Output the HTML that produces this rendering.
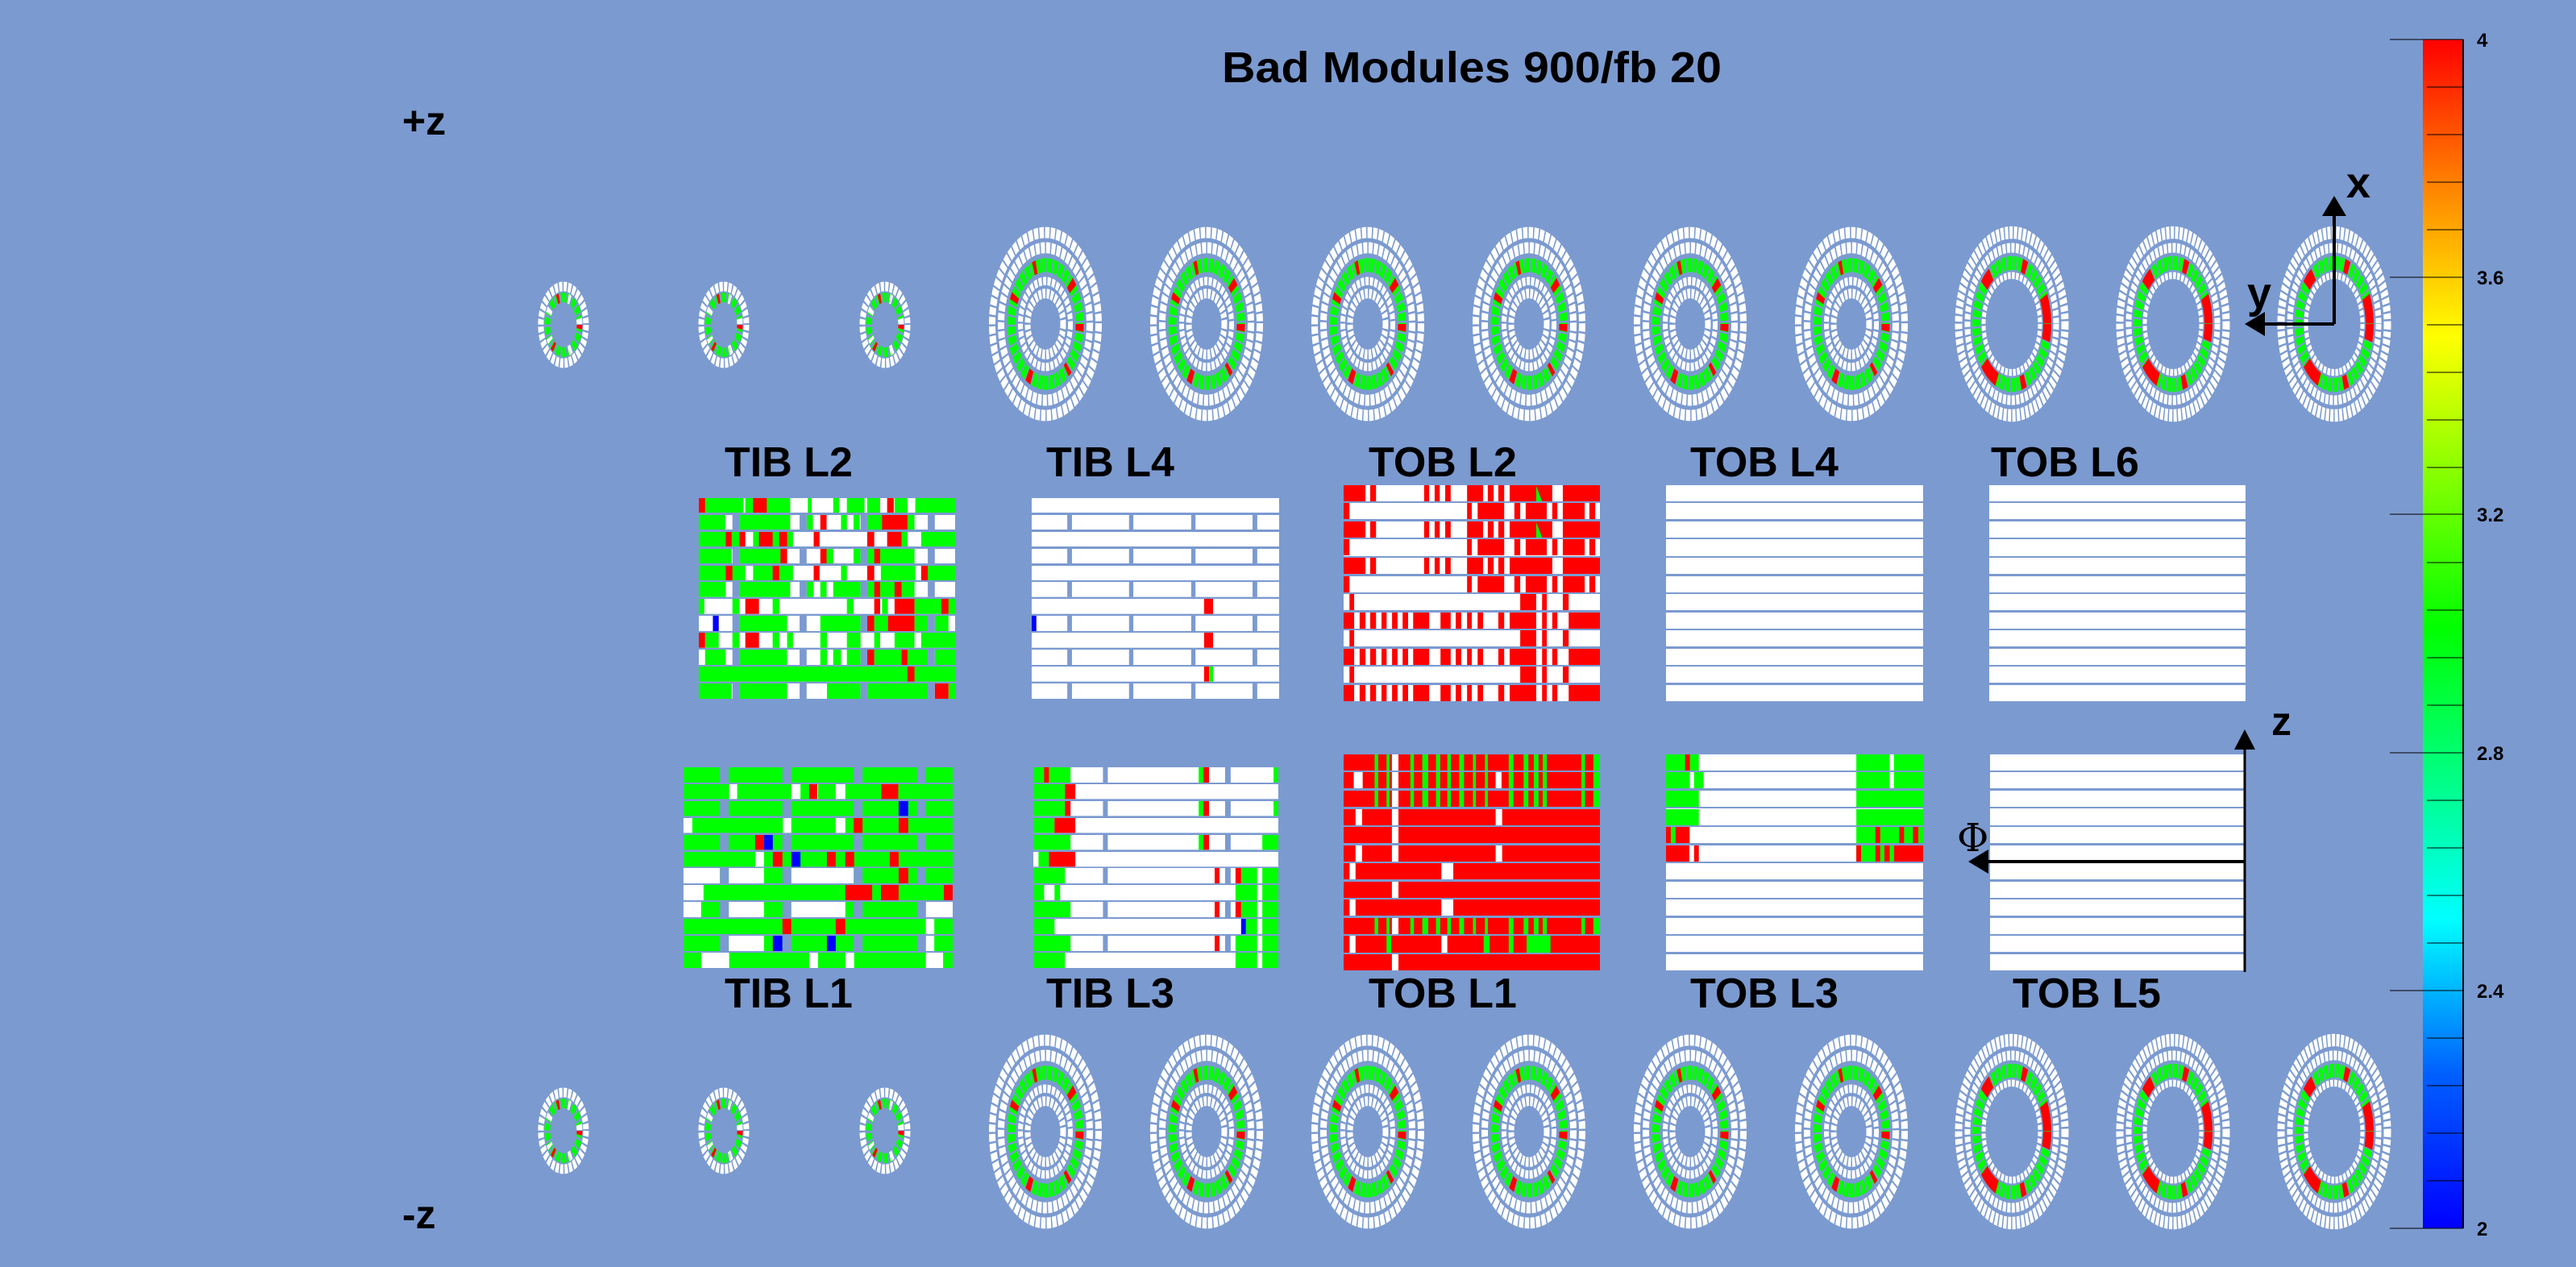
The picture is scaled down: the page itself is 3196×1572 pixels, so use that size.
<!DOCTYPE html>
<html><head><meta charset="utf-8"><style>
html,body{margin:0;padding:0;background:rgb(123,154,208);}
svg{display:block}
text{font-family:"Liberation Sans",sans-serif;font-weight:bold;fill:#000}
</style></head><body>
<svg width="3196" height="1572" viewBox="0 0 3196 1572" xmlns="http://www.w3.org/2000/svg">
<defs>
<linearGradient id="cb" x1="0" y1="1" x2="0" y2="0">
<stop offset="0" stop-color="#0000ff"/><stop offset="0.13" stop-color="#0060ff"/><stop offset="0.26" stop-color="#00ffff"/><stop offset="0.505" stop-color="#00ff00"/><stop offset="0.75" stop-color="#ffff00"/><stop offset="0.88" stop-color="#ff8000"/><stop offset="1" stop-color="#ff0000"/>
</linearGradient>
<g id="big">
<circle r="66" fill="none" stroke="#fff" stroke-width="8" stroke-dasharray="5.4 1.5"/>
<circle r="55" fill="none" stroke="#fff" stroke-width="8" stroke-dasharray="5 1.5"/>
<circle r="42.5" fill="none" stroke="#0f0" stroke-width="10" stroke-dasharray="5.5 1.5"/>
<circle r="42.5" fill="none" stroke="#f00" stroke-width="10" stroke-dasharray="5 30 4 45 6 60"/>
<circle r="31" fill="none" stroke="#fff" stroke-width="6" stroke-dasharray="4 1.5"/>
<circle r="22" fill="none" stroke="#fff" stroke-width="7" stroke-dasharray="3.5 1.5"/>
</g>
<g id="last">
<circle r="66" fill="none" stroke="#fff" stroke-width="9" stroke-dasharray="4 1.5"/>
<circle r="55" fill="none" stroke="#fff" stroke-width="7" stroke-dasharray="4 1.5"/>
<circle r="44" fill="none" stroke="#0f0" stroke-width="10" stroke-dasharray="5 1.5"/>
<circle r="44" fill="none" stroke="#f00" stroke-width="10" stroke-dasharray="12 40 6 30 20 60"/>
<circle r="35" fill="none" stroke="#fff" stroke-width="5" stroke-dasharray="3.5 1.5"/>
</g>
<g id="small">
<circle r="28" fill="none" stroke="#fff" stroke-width="7" stroke-dasharray="4 1.5"/>
<circle r="20" fill="none" stroke="#0f0" stroke-width="7" stroke-dasharray="5 2"/>
<circle r="20" fill="none" stroke="#fff" stroke-width="7" stroke-dasharray="3 18 4 25"/>
<circle r="20" fill="none" stroke="#f00" stroke-width="7" stroke-dasharray="3 40"/>
</g>
</defs>

<text x="1826" y="102" font-size="54" text-anchor="middle" textLength="620" lengthAdjust="spacingAndGlyphs">Bad Modules 900/fb 20</text>
<text x="499" y="167" font-size="50">+z</text>
<text x="499" y="1524" font-size="50">-z</text>

<!-- top disks -->
<g transform="translate(699,403) scale(1,1.7)"><use href="#small"/></g>
<g transform="translate(898,403) scale(1,1.7)"><use href="#small"/></g>
<g transform="translate(1098,403) scale(1,1.7)"><use href="#small"/></g>
<g transform="translate(1297,402) scale(1,1.72)"><use href="#big"/></g>
<g transform="translate(1497,402) scale(1,1.72)"><use href="#big"/></g>
<g transform="translate(1697,402) scale(1,1.72)"><use href="#big"/></g>
<g transform="translate(1897,402) scale(1,1.72)"><use href="#big"/></g>
<g transform="translate(2097,402) scale(1,1.72)"><use href="#big"/></g>
<g transform="translate(2297,402) scale(1,1.72)"><use href="#big"/></g>
<g transform="translate(2496,402) scale(1,1.72)"><use href="#last"/></g>
<g transform="translate(2696,402) scale(1,1.72)"><use href="#last"/></g>
<g transform="translate(2896,402) scale(1,1.72)"><use href="#last"/></g>
<!-- bottom disks -->
<g transform="translate(699,1403) scale(1,1.7)"><use href="#small"/></g>
<g transform="translate(898,1403) scale(1,1.7)"><use href="#small"/></g>
<g transform="translate(1098,1403) scale(1,1.7)"><use href="#small"/></g>
<g transform="translate(1297,1404) scale(1,1.72)"><use href="#big"/></g>
<g transform="translate(1497,1404) scale(1,1.72)"><use href="#big"/></g>
<g transform="translate(1697,1404) scale(1,1.72)"><use href="#big"/></g>
<g transform="translate(1897,1404) scale(1,1.72)"><use href="#big"/></g>
<g transform="translate(2097,1404) scale(1,1.72)"><use href="#big"/></g>
<g transform="translate(2297,1404) scale(1,1.72)"><use href="#big"/></g>
<g transform="translate(2496,1404) scale(1,1.72)"><use href="#last"/></g>
<g transform="translate(2696,1404) scale(1,1.72)"><use href="#last"/></g>
<g transform="translate(2896,1404) scale(1,1.72)"><use href="#last"/></g>

<!-- x/y axes -->
<line x1="2896" y1="402" x2="2896" y2="262" stroke="#000" stroke-width="4"/>
<polygon points="2896,243 2881,268 2911,268" fill="#000"/>
<line x1="2896" y1="402" x2="2805" y2="402" stroke="#000" stroke-width="4"/>
<polygon points="2785,402 2810,387 2810,417" fill="#000"/>
<text x="2911" y="245" font-size="54">x</text>
<text x="2788" y="382" font-size="54">y</text>

<!-- labels -->
<g font-size="52">
<text x="899" y="591">TIB L2</text><text x="1298" y="591">TIB L4</text><text x="1698" y="591">TOB L2</text><text x="2097" y="591">TOB L4</text><text x="2470" y="591">TOB L6</text>
<text x="899" y="1250">TIB L1</text><text x="1298" y="1250">TIB L3</text><text x="1698" y="1250">TOB L1</text><text x="2097" y="1250">TOB L3</text><text x="2497" y="1250">TOB L5</text>
</g>

<!-- TIB L2 -->
<svg x="867" y="618" width="318" height="249" viewBox="56 54 656 747" preserveAspectRatio="none">
<g fill="#fff"><rect x="56" y="54" width="656" height="54"/><rect x="56" y="117" width="656" height="54"/><rect x="56" y="180" width="656" height="54"/><rect x="56" y="243" width="656" height="54"/><rect x="56" y="306" width="656" height="54"/><rect x="56" y="366" width="656" height="56"/><rect x="56" y="429" width="656" height="56"/><rect x="56" y="492" width="656" height="57"/><rect x="56" y="555" width="656" height="56"/><rect x="56" y="618" width="656" height="57"/><rect x="56" y="681" width="656" height="56"/><rect x="56" y="744" width="656" height="57"/></g>
<g fill="#0f0">
<rect x="56" y="54" width="114" height="54"/><rect x="175" y="54" width="115" height="54"/><rect x="335" y="54" width="10" height="54"/><rect x="400" y="54" width="15" height="54"/><rect x="435" y="54" width="45" height="54"/><rect x="487" y="54" width="33" height="54"/><rect x="557" y="54" width="33" height="54"/><rect x="610" y="54" width="102" height="54"/>
<rect x="56" y="117" width="68" height="54"/><rect x="160" y="117" width="130" height="54"/><rect x="332" y="117" width="16" height="54"/><rect x="420" y="117" width="15" height="54"/><rect x="452" y="117" width="16" height="54"/><rect x="487" y="117" width="121" height="54"/>
<rect x="56" y="180" width="104" height="54"/><rect x="195" y="180" width="102" height="54"/><rect x="575" y="180" width="15" height="54"/><rect x="625" y="180" width="87" height="54"/>
<rect x="56" y="243" width="84" height="54"/><rect x="160" y="243" width="122" height="54"/><rect x="383" y="243" width="17" height="54"/><rect x="452" y="243" width="18" height="54"/><rect x="487" y="243" width="121" height="54"/>
<rect x="56" y="306" width="119" height="54"/><rect x="195" y="306" width="102" height="54"/><rect x="420" y="306" width="15" height="54"/><rect x="522" y="306" width="88" height="54"/><rect x="642" y="306" width="70" height="54"/>
<rect x="56" y="366" width="69" height="56"/><rect x="160" y="366" width="130" height="56"/><rect x="332" y="366" width="18" height="56"/><rect x="367" y="366" width="16" height="56"/><rect x="400" y="366" width="70" height="56"/><rect x="487" y="366" width="121" height="56"/>
<rect x="56" y="429" width="14" height="56"/><rect x="142" y="429" width="18" height="56"/><rect x="245" y="429" width="17" height="56"/><rect x="435" y="429" width="17" height="56"/><rect x="525" y="429" width="15" height="56"/><rect x="608" y="429" width="104" height="56"/>
<rect x="160" y="492" width="122" height="57"/><rect x="367" y="492" width="103" height="57"/><rect x="505" y="492" width="35" height="57"/><rect x="608" y="492" width="34" height="57"/><rect x="660" y="492" width="35" height="57"/>
<rect x="72" y="555" width="35" height="56"/><rect x="142" y="555" width="18" height="56"/><rect x="245" y="555" width="17" height="56"/><rect x="282" y="555" width="15" height="56"/><rect x="367" y="555" width="17" height="56"/><rect x="435" y="555" width="35" height="56"/><rect x="505" y="555" width="15" height="56"/><rect x="557" y="555" width="51" height="56"/><rect x="625" y="555" width="87" height="56"/>
<rect x="72" y="618" width="53" height="57"/><rect x="160" y="618" width="122" height="57"/><rect x="367" y="618" width="17" height="57"/><rect x="400" y="618" width="20" height="57"/><rect x="435" y="618" width="35" height="57"/><rect x="505" y="618" width="137" height="57"/><rect x="660" y="618" width="52" height="57"/>
<rect x="56" y="681" width="656" height="56"/>
<rect x="56" y="744" width="84" height="57"/><rect x="160" y="744" width="122" height="57"/><rect x="384" y="744" width="86" height="57"/><rect x="487" y="744" width="155" height="57"/><rect x="695" y="744" width="17" height="57"/>
</g>
<g fill="#f00">
<rect x="56" y="54" width="16" height="54"/><rect x="195" y="54" width="35" height="54"/><rect x="538" y="54" width="17" height="54"/>
<rect x="367" y="117" width="16" height="54"/><rect x="525" y="117" width="65" height="54"/>
<rect x="125" y="180" width="15" height="54"/><rect x="160" y="180" width="15" height="54"/><rect x="210" y="180" width="35" height="54"/><rect x="262" y="180" width="20" height="54"/><rect x="350" y="180" width="15" height="54"/><rect x="487" y="180" width="18" height="54"/><rect x="538" y="180" width="37" height="54"/>
<rect x="265" y="243" width="17" height="54"/><rect x="367" y="243" width="16" height="54"/><rect x="505" y="243" width="15" height="54"/>
<rect x="125" y="306" width="17" height="54"/><rect x="245" y="306" width="17" height="54"/><rect x="350" y="306" width="15" height="54"/><rect x="487" y="306" width="18" height="54"/><rect x="625" y="306" width="17" height="54"/>
<rect x="505" y="366" width="15" height="56"/><rect x="557" y="366" width="18" height="56"/>
<rect x="175" y="429" width="35" height="56"/><rect x="505" y="429" width="15" height="56"/><rect x="557" y="429" width="51" height="56"/><rect x="677" y="429" width="18" height="56"/>
<rect x="487" y="492" width="18" height="57"/><rect x="540" y="492" width="68" height="57"/>
<rect x="56" y="555" width="16" height="56"/><rect x="175" y="555" width="35" height="56"/>
<rect x="487" y="618" width="18" height="57"/><rect x="575" y="618" width="15" height="57"/>
<rect x="590" y="681" width="18" height="56"/>
<rect x="660" y="744" width="35" height="57"/>
</g>
<rect x="92" y="492" width="15" height="57" fill="#00f"/>
<g fill="rgb(123,154,208)"><rect x="142" y="117" width="18" height="54"/><rect x="314" y="117" width="18" height="54"/><rect x="470" y="117" width="17" height="54"/><rect x="642" y="117" width="18" height="54"/>
<rect x="142" y="243" width="18" height="54"/><rect x="314" y="243" width="18" height="54"/><rect x="470" y="243" width="17" height="54"/><rect x="642" y="243" width="18" height="54"/>
<rect x="142" y="366" width="18" height="56"/><rect x="314" y="366" width="18" height="56"/><rect x="470" y="366" width="17" height="56"/><rect x="642" y="366" width="18" height="56"/>
<rect x="142" y="492" width="18" height="57"/><rect x="314" y="492" width="18" height="57"/><rect x="470" y="492" width="17" height="57"/><rect x="642" y="492" width="18" height="57"/>
<rect x="142" y="618" width="18" height="57"/><rect x="314" y="618" width="18" height="57"/><rect x="470" y="618" width="17" height="57"/><rect x="642" y="618" width="18" height="57"/>
<rect x="142" y="744" width="18" height="57"/><rect x="314" y="744" width="18" height="57"/><rect x="470" y="744" width="17" height="57"/><rect x="642" y="744" width="18" height="57"/></g>
</svg>

<!-- TIB L4 -->
<svg x="1280" y="618" width="307" height="249" viewBox="908 54 633 747" preserveAspectRatio="none">
<g fill="#fff"><rect x="908" y="54" width="633" height="54"/><rect x="908" y="117" width="633" height="54"/><rect x="908" y="180" width="633" height="54"/><rect x="908" y="243" width="633" height="54"/><rect x="908" y="306" width="633" height="54"/><rect x="908" y="366" width="633" height="56"/><rect x="908" y="429" width="633" height="56"/><rect x="908" y="492" width="633" height="57"/><rect x="908" y="555" width="633" height="56"/><rect x="908" y="618" width="633" height="57"/><rect x="908" y="681" width="633" height="56"/><rect x="908" y="744" width="633" height="57"/></g>
<g fill="rgb(123,154,208)">
<rect x="999" y="117" width="12" height="54"/><rect x="1157" y="117" width="11" height="54"/><rect x="1316" y="117" width="11" height="54"/><rect x="1473" y="117" width="12" height="54"/>
<rect x="999" y="243" width="12" height="54"/><rect x="1157" y="243" width="11" height="54"/><rect x="1316" y="243" width="11" height="54"/><rect x="1473" y="243" width="12" height="54"/>
<rect x="999" y="366" width="12" height="56"/><rect x="1157" y="366" width="11" height="56"/><rect x="1316" y="366" width="11" height="56"/><rect x="1473" y="366" width="12" height="56"/>
<rect x="999" y="492" width="12" height="57"/><rect x="1157" y="492" width="11" height="57"/><rect x="1316" y="492" width="11" height="57"/><rect x="1473" y="492" width="12" height="57"/>
<rect x="999" y="618" width="12" height="57"/><rect x="1157" y="618" width="11" height="57"/><rect x="1316" y="618" width="11" height="57"/><rect x="1473" y="618" width="12" height="57"/>
<rect x="999" y="744" width="12" height="57"/><rect x="1157" y="744" width="11" height="57"/><rect x="1316" y="744" width="11" height="57"/><rect x="1473" y="744" width="12" height="57"/></g>
<g fill="#f00"><rect x="1349" y="429" width="23" height="56"/><rect x="1349" y="555" width="23" height="56"/><rect x="1349" y="681" width="13" height="56"/></g>
<rect x="1362" y="681" width="10" height="56" fill="#0f0"/>
<rect x="908" y="492" width="12" height="57" fill="#00f"/>
</svg>

<!-- TOB L2 -->
<svg x="1667" y="602" width="318" height="268" viewBox="35 6 656 804" preserveAspectRatio="none">
<g fill="#fff"><rect x="35" y="6" width="656" height="60"/><rect x="35" y="72" width="656" height="60"/><rect x="35" y="141" width="656" height="60"/><rect x="35" y="207" width="656" height="63"/><rect x="35" y="276" width="656" height="60"/><rect x="35" y="345" width="656" height="60"/><rect x="35" y="411" width="656" height="60"/><rect x="35" y="480" width="656" height="60"/><rect x="35" y="546" width="656" height="60"/><rect x="35" y="615" width="656" height="60"/><rect x="35" y="681" width="656" height="60"/><rect x="35" y="750" width="656" height="60"/></g>
<g id="pA" fill="#f00"><rect x="35" y="6" width="56" height="60"/><rect x="103" y="6" width="15" height="60"/><rect x="241" y="6" width="13" height="60"/><rect x="268" y="6" width="13" height="60"/><rect x="295" y="6" width="14" height="60"/><rect x="351" y="6" width="41" height="60"/><rect x="404" y="6" width="15" height="60"/><rect x="431" y="6" width="15" height="60"/><rect x="460" y="6" width="109" height="60"/><rect x="596" y="6" width="95" height="60"/></g>
<use href="#pA" y="135"/><use href="#pA" y="270"/>
<polygon points="528,9 543,66 528,66" fill="#0f0"/><polygon points="528,144 543,201 528,201" fill="#0f0"/>
<g id="pB" fill="#f00"><rect x="35" y="72" width="15" height="60"/><rect x="351" y="72" width="12" height="60"/><rect x="378" y="72" width="68" height="60"/><rect x="472" y="72" width="15" height="60"/><rect x="501" y="72" width="54" height="60"/><rect x="569" y="72" width="13" height="60"/><rect x="596" y="72" width="56" height="60"/><rect x="664" y="72" width="15" height="60"/></g>
<use href="#pB" y="135"/><use href="#pB" y="273"/>
<g id="pC" fill="#f00"><rect x="50" y="411" width="12" height="60"/><rect x="487" y="411" width="41" height="60"/><rect x="543" y="411" width="12" height="60"/><rect x="596" y="411" width="15" height="60"/></g>
<use href="#pC" y="135"/><use href="#pC" y="270"/>
<g id="pD" fill="#f00"><rect x="35" y="480" width="27" height="60"/><rect x="76" y="480" width="15" height="60"/><rect x="103" y="480" width="15" height="60"/><rect x="132" y="480" width="13" height="60"/><rect x="159" y="480" width="14" height="60"/><rect x="186" y="480" width="14" height="60"/><rect x="213" y="480" width="41" height="60"/><rect x="283" y="480" width="26" height="60"/><rect x="322" y="480" width="14" height="60"/><rect x="351" y="480" width="12" height="60"/><rect x="378" y="480" width="14" height="60"/><rect x="431" y="480" width="15" height="60"/><rect x="460" y="480" width="68" height="60"/><rect x="543" y="480" width="12" height="60"/><rect x="569" y="480" width="13" height="60"/><rect x="611" y="480" width="80" height="60"/></g>
<use href="#pD" y="135"/><use href="#pD" y="270"/>
</svg>

<!-- TOB L4 / L6 / L5 white -->
<svg x="2067" y="602" width="319" height="268" viewBox="0 6 100 804" preserveAspectRatio="none">
<g id="wr" fill="#fff"><rect x="0" y="6" width="100" height="60"/><rect x="0" y="72" width="100" height="60"/><rect x="0" y="141" width="100" height="60"/><rect x="0" y="207" width="100" height="63"/><rect x="0" y="276" width="100" height="60"/><rect x="0" y="345" width="100" height="60"/><rect x="0" y="411" width="100" height="60"/><rect x="0" y="480" width="100" height="60"/><rect x="0" y="546" width="100" height="60"/><rect x="0" y="615" width="100" height="60"/><rect x="0" y="681" width="100" height="60"/><rect x="0" y="750" width="100" height="60"/></g>
</svg>
<svg x="2468" y="602" width="318" height="268" viewBox="0 6 100 804" preserveAspectRatio="none"><use href="#wr"/></svg>
<svg x="2469" y="936" width="316" height="268" viewBox="0 48 100 804" preserveAspectRatio="none"><use href="#wr" y="42"/></svg>

<!-- TIB L1 -->
<svg x="848" y="952" width="334" height="249" viewBox="36 96 672 747" preserveAspectRatio="none">
<g fill="#0f0"><rect x="36" y="96" width="672" height="57"/><rect x="36" y="159" width="672" height="55"/><rect x="36" y="222" width="672" height="55"/><rect x="36" y="285" width="672" height="55"/><rect x="36" y="348" width="672" height="55"/><rect x="36" y="411" width="672" height="55"/><rect x="36" y="471" width="672" height="57"/><rect x="36" y="534" width="672" height="57"/><rect x="36" y="597" width="672" height="57"/><rect x="36" y="660" width="672" height="57"/><rect x="36" y="723" width="672" height="57"/><rect x="36" y="786" width="672" height="57"/></g>
<g fill="#fff"><rect x="150" y="159" width="20" height="55"/><rect x="305" y="159" width="23" height="55"/><rect x="350" y="159" width="22" height="55"/><rect x="416" y="159" width="24" height="55"/>
<rect x="36" y="285" width="22" height="55"/><rect x="284" y="285" width="21" height="55"/><rect x="416" y="285" width="24" height="55"/>
<rect x="215" y="411" width="22" height="55"/>
<rect x="36" y="471" width="91" height="57"/><rect x="149" y="471" width="88" height="57"/><rect x="305" y="471" width="156" height="57"/>
<rect x="36" y="534" width="50" height="57"/>
<rect x="36" y="597" width="44" height="57"/><rect x="149" y="597" width="88" height="57"/><rect x="305" y="597" width="135" height="57"/><rect x="641" y="597" width="67" height="57"/>
<rect x="641" y="660" width="21" height="57"/>
<rect x="149" y="723" width="88" height="57"/><rect x="641" y="723" width="21" height="57"/>
<rect x="80" y="786" width="70" height="57"/><rect x="350" y="786" width="22" height="57"/><rect x="440" y="786" width="22" height="57"/><rect x="641" y="786" width="43" height="57"/></g>
<g fill="#f00"><rect x="350" y="159" width="20" height="55"/><rect x="530" y="159" width="42" height="55"/><rect x="461" y="285" width="22" height="55"/><rect x="573" y="285" width="24" height="55"/><rect x="215" y="348" width="22" height="55"/><rect x="259" y="411" width="24" height="55"/><rect x="394" y="411" width="22" height="55"/><rect x="440" y="411" width="22" height="55"/><rect x="551" y="411" width="22" height="55"/><rect x="573" y="471" width="24" height="57"/><rect x="440" y="534" width="67" height="57"/><rect x="529" y="534" width="44" height="57"/><rect x="686" y="534" width="22" height="57"/><rect x="283" y="660" width="22" height="57"/><rect x="416" y="660" width="24" height="57"/></g>
<g fill="#00f"><rect x="573" y="222" width="24" height="55"/><rect x="237" y="348" width="22" height="55"/><rect x="305" y="411" width="23" height="55"/><rect x="259" y="723" width="24" height="57"/><rect x="394" y="723" width="22" height="57"/></g>
<g id="gapL1" fill="rgb(123,154,208)"><rect x="127" y="96" width="22" height="57"/><rect x="283" y="96" width="22" height="57"/><rect x="461" y="96" width="22" height="57"/><rect x="619" y="96" width="22" height="57"/></g>
<use href="#gapL1" y="126"/><use href="#gapL1" y="252"/><use href="#gapL1" y="375"/><use href="#gapL1" y="501"/><use href="#gapL1" y="627"/>
</svg>

<!-- TIB L3 -->
<svg x="1282" y="952" width="304" height="249" viewBox="908 96 612 747" preserveAspectRatio="none">
<g fill="#fff"><rect x="908" y="96" width="612" height="57"/><rect x="908" y="159" width="612" height="55"/><rect x="908" y="222" width="612" height="55"/><rect x="908" y="285" width="612" height="55"/><rect x="908" y="348" width="612" height="55"/><rect x="908" y="411" width="612" height="55"/><rect x="908" y="471" width="612" height="57"/><rect x="908" y="534" width="612" height="57"/><rect x="908" y="597" width="612" height="57"/><rect x="908" y="660" width="612" height="57"/><rect x="908" y="723" width="612" height="57"/><rect x="908" y="786" width="612" height="57"/></g>
<g fill="#0f0"><rect x="908" y="96" width="93" height="57"/><rect x="1321" y="96" width="12" height="57"/><rect x="1508" y="96" width="12" height="57"/>
<rect x="908" y="159" width="79" height="55"/><rect x="908" y="222" width="79" height="55"/><rect x="1321" y="222" width="12" height="55"/><rect x="1508" y="222" width="12" height="55"/>
<rect x="908" y="285" width="53" height="55"/><rect x="908" y="348" width="93" height="55"/><rect x="1321" y="348" width="12" height="55"/><rect x="1480" y="348" width="40" height="55"/>
<rect x="921" y="411" width="26" height="55"/><rect x="908" y="471" width="79" height="57"/><rect x="1427" y="471" width="40" height="57"/><rect x="1480" y="471" width="40" height="57"/>
<rect x="908" y="534" width="27" height="57"/><rect x="961" y="534" width="14" height="57"/><rect x="1413" y="534" width="54" height="57"/><rect x="1480" y="534" width="40" height="57"/>
<rect x="908" y="597" width="93" height="57"/><rect x="1427" y="597" width="40" height="57"/><rect x="1480" y="597" width="40" height="57"/>
<rect x="908" y="660" width="53" height="57"/><rect x="1439" y="660" width="28" height="57"/><rect x="1480" y="660" width="40" height="57"/>
<rect x="908" y="723" width="93" height="57"/><rect x="1413" y="723" width="54" height="57"/><rect x="1480" y="723" width="40" height="57"/>
<rect x="908" y="786" width="79" height="57"/><rect x="1413" y="786" width="54" height="57"/><rect x="1480" y="786" width="40" height="57"/></g>
<g fill="#f00"><rect x="935" y="96" width="12" height="57"/><rect x="1333" y="96" width="14" height="57"/><rect x="987" y="159" width="26" height="55"/><rect x="987" y="222" width="14" height="55"/><rect x="1333" y="222" width="14" height="55"/><rect x="961" y="285" width="52" height="55"/><rect x="1333" y="348" width="14" height="55"/><rect x="947" y="411" width="66" height="55"/><rect x="1361" y="471" width="12" height="57"/><rect x="1413" y="471" width="14" height="57"/><rect x="1361" y="597" width="12" height="57"/><rect x="1413" y="597" width="14" height="57"/><rect x="1361" y="723" width="12" height="57"/></g>
<rect x="1427" y="660" width="12" height="57" fill="#00f"/>
<g id="gapL3" fill="rgb(123,154,208)"><rect x="1082" y="96" width="12" height="57"/><rect x="1387" y="96" width="14" height="57"/></g>
<use href="#gapL3" y="126"/><use href="#gapL3" y="252"/><use href="#gapL3" y="375"/><use href="#gapL3" y="501"/><use href="#gapL3" y="627"/>
</svg>

<!-- TOB L1 -->
<svg x="1667" y="936" width="318" height="268" viewBox="23 48 430 804" preserveAspectRatio="none">
<g fill="#f00"><rect x="23" y="48" width="430" height="60"/><rect x="23" y="114" width="430" height="60"/><rect x="23" y="183" width="430" height="60"/><rect x="23" y="252" width="430" height="60"/><rect x="23" y="318" width="430" height="60"/><rect x="23" y="387" width="430" height="60"/><rect x="23" y="453" width="430" height="60"/><rect x="23" y="522" width="430" height="60"/><rect x="23" y="588" width="430" height="60"/><rect x="23" y="657" width="430" height="60"/><rect x="23" y="723" width="430" height="63"/><rect x="23" y="792" width="430" height="60"/></g>
<g id="gs" fill="#0f0"><rect x="75" y="48" width="6" height="60"/><rect x="95" y="48" width="5" height="60"/><rect x="135" y="48" width="6" height="60"/><rect x="155" y="48" width="10" height="60"/><rect x="178" y="48" width="7" height="60"/><rect x="197" y="48" width="6" height="60"/><rect x="217" y="48" width="8" height="60"/><rect x="240" y="48" width="5" height="60"/><rect x="260" y="48" width="5" height="60"/><rect x="300" y="48" width="8" height="60"/><rect x="325" y="48" width="8" height="60"/><rect x="342" y="48" width="8" height="60"/><rect x="357" y="48" width="7" height="60"/><rect x="422" y="48" width="6" height="60"/><rect x="442" y="48" width="11" height="60"/></g>
<use href="#gs" y="66"/><use href="#gs" y="135"/><use href="#gs" y="609"/>
<g fill="#0f0"><rect x="95" y="723" width="8" height="63"/><rect x="258" y="723" width="10" height="63"/><rect x="300" y="723" width="8" height="63"/><rect x="330" y="723" width="40" height="63"/></g>
<g fill="#fff"><rect x="104" y="48" width="11" height="60"/><rect x="40" y="114" width="15" height="60"/><rect x="104" y="114" width="11" height="60"/><rect x="278" y="114" width="10" height="60"/><rect x="104" y="183" width="11" height="60"/>
<rect x="43" y="252" width="11" height="60"/><rect x="104" y="252" width="11" height="60"/><rect x="278" y="252" width="11" height="60"/><rect x="104" y="318" width="11" height="60"/>
<rect x="43" y="387" width="11" height="60"/><rect x="104" y="387" width="11" height="60"/><rect x="278" y="387" width="11" height="60"/>
<rect x="33" y="453" width="10" height="60"/><rect x="187" y="453" width="20" height="60"/><rect x="104" y="522" width="11" height="60"/><rect x="33" y="588" width="10" height="60"/><rect x="187" y="588" width="20" height="60"/>
<rect x="104" y="657" width="11" height="60"/><rect x="33" y="723" width="10" height="63"/><rect x="187" y="723" width="10" height="63"/><rect x="104" y="792" width="11" height="60"/></g>
</svg>

<!-- TOB L3 -->
<svg x="2067" y="936" width="319" height="268" viewBox="564 48 431 804" preserveAspectRatio="none">
<use href="#wr" transform="translate(564,42) scale(4.31,1)"/>
<g fill="#0f0"><rect x="564" y="48" width="55" height="60"/><rect x="883" y="48" width="112" height="60"/><rect x="564" y="114" width="63" height="60"/><rect x="883" y="114" width="112" height="60"/><rect x="564" y="183" width="55" height="60"/><rect x="883" y="183" width="112" height="60"/><rect x="564" y="252" width="55" height="60"/><rect x="883" y="252" width="112" height="60"/><rect x="564" y="318" width="40" height="60"/><rect x="883" y="318" width="112" height="60"/><rect x="883" y="387" width="63" height="60"/></g>
<g fill="#fff"><rect x="939" y="48" width="7" height="60"/><rect x="604" y="114" width="7" height="60"/><rect x="939" y="114" width="7" height="60"/></g>
<g fill="#f00"><rect x="596" y="48" width="8" height="60"/><rect x="564" y="318" width="8" height="60"/><rect x="580" y="318" width="23" height="60"/><rect x="915" y="318" width="8" height="60"/><rect x="955" y="318" width="8" height="60"/><rect x="978" y="318" width="9" height="60"/><rect x="564" y="387" width="39" height="60"/><rect x="611" y="387" width="8" height="60"/><rect x="883" y="387" width="8" height="60"/><rect x="915" y="387" width="8" height="60"/><rect x="930" y="387" width="9" height="60"/><rect x="946" y="387" width="49" height="60"/></g>
</svg>

<!-- z / phi axes -->
<line x1="2785" y1="930" x2="2785" y2="1206" stroke="#000" stroke-width="3"/>
<polygon points="2785,905 2772,930 2798,930" fill="#000"/>
<text x="2818" y="912" font-size="50">z</text>
<line x1="2785" y1="1069" x2="2460" y2="1069" stroke="#000" stroke-width="4"/>
<polygon points="2442,1069 2467,1054 2467,1084" fill="#000"/>
<text x="2428" y="1056" font-size="48" style="font-family:'DejaVu Serif',serif;font-weight:normal">Φ</text>

<!-- color bar -->
<rect x="3006" y="49" width="50" height="1475" fill="url(#cb)"/>
<line x1="3056" y1="49" x2="3056" y2="1524" stroke="#000" stroke-width="2"/>
<g stroke="#000" stroke-width="1">
<line x1="2965" y1="49" x2="3056" y2="49"/><line x1="2965" y1="344" x2="3056" y2="344"/><line x1="2965" y1="638" x2="3056" y2="638"/><line x1="2965" y1="934" x2="3056" y2="934"/><line x1="2965" y1="1229" x2="3056" y2="1229"/><line x1="2965" y1="1524" x2="3056" y2="1524"/>
<line x1="3011" y1="108" x2="3056" y2="108"/><line x1="3011" y1="167" x2="3056" y2="167"/><line x1="3011" y1="226" x2="3056" y2="226"/><line x1="3011" y1="285" x2="3056" y2="285"/>
<line x1="3011" y1="403" x2="3056" y2="403"/><line x1="3011" y1="462" x2="3056" y2="462"/><line x1="3011" y1="521" x2="3056" y2="521"/><line x1="3011" y1="580" x2="3056" y2="580"/>
<line x1="3011" y1="698" x2="3056" y2="698"/><line x1="3011" y1="757" x2="3056" y2="757"/><line x1="3011" y1="816" x2="3056" y2="816"/><line x1="3011" y1="875" x2="3056" y2="875"/>
<line x1="3011" y1="993" x2="3056" y2="993"/><line x1="3011" y1="1052" x2="3056" y2="1052"/><line x1="3011" y1="1111" x2="3056" y2="1111"/><line x1="3011" y1="1170" x2="3056" y2="1170"/>
<line x1="3011" y1="1288" x2="3056" y2="1288"/><line x1="3011" y1="1347" x2="3056" y2="1347"/><line x1="3011" y1="1406" x2="3056" y2="1406"/><line x1="3011" y1="1465" x2="3056" y2="1465"/>
</g>
<g font-size="24">
<text x="3073" y="58">4</text><text x="3073" y="353">3.6</text><text x="3073" y="647">3.2</text><text x="3073" y="943">2.8</text><text x="3073" y="1238">2.4</text><text x="3073" y="1533">2</text>
</g>
</svg>
</body></html>
